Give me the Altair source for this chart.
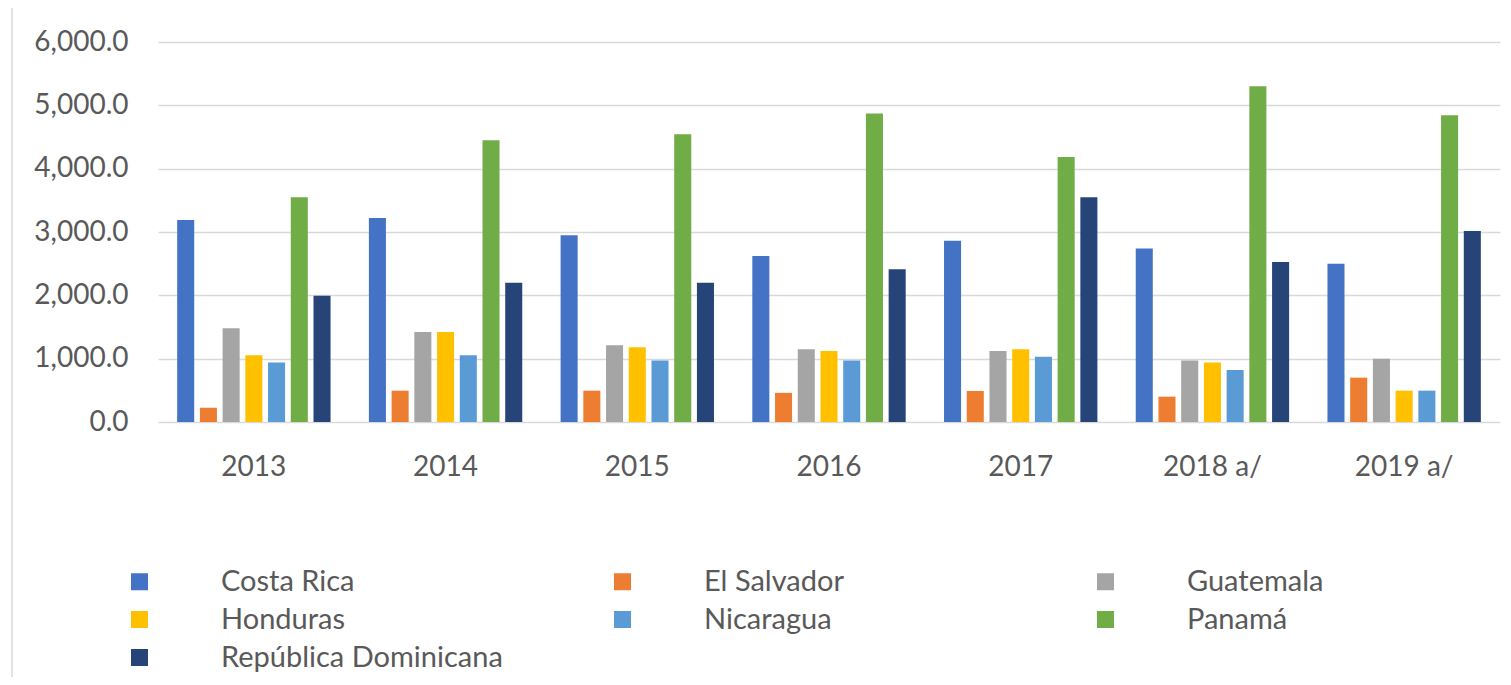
import altair as alt
import pandas as pd

years = ["2013", "2014", "2015", "2016", "2017", "2018 a/", "2019 a/"]
countries = ["Costa Rica", "El Salvador", "Guatemala", "Honduras",
             "Nicaragua", "Panamá", "República Dominicana"]
colors = ["#4472C4", "#ED7D31", "#A5A5A5", "#FFC000", "#5B9BD5", "#70AD47", "#264478"]

costa_rica = [3190, 3220, 2950, 2620, 2860, 2740, 2500]
el_salvador = [225, 495, 495, 460, 490, 400, 700]
guatemala = [1480, 1420, 1210, 1150, 1120, 970, 1000]
honduras = [1055, 1420, 1180, 1120, 1150, 940, 495]
nicaragua = [940, 1055, 970, 970, 1030, 820, 495]
panama = [3550, 4450, 4545, 4870, 4185, 5300, 4845]
rep_dom = [1995, 2200, 2200, 2410, 3550, 2525, 3015]

series = [costa_rica, el_salvador, guatemala, honduras, nicaragua, panama, rep_dom]
rows = []
for c, vals in zip(countries, series):
    for y, v in zip(years, vals):
        rows.append({"year": y, "country": c, "value": v})
df = pd.DataFrame(rows)

FONT = "Lato"
GREY = "#595959"

bars = alt.Chart(df).mark_bar().encode(
    x=alt.X("year:N", sort=years,
            scale=alt.Scale(paddingInner=0.2, paddingOuter=0.1),
            axis=alt.Axis(title=None, labelAngle=0, labelFontSize=28, labelFont=FONT,
                          labelColor=GREY, labelPadding=31, domain=False, ticks=False)),
    xOffset=alt.XOffset("country:N", sort=countries,
                        scale=alt.Scale(paddingInner=0.25, paddingOuter=0)),
    y=alt.Y("value:Q", scale=alt.Scale(domain=[0, 6000]),
            axis=alt.Axis(title=None, values=[0, 1000, 2000, 3000, 4000, 5000, 6000],
                          format=",.1f", labelFontSize=28, labelFont=FONT, labelColor=GREY,
                          labelPadding=30, domain=False, ticks=False,
                          gridColor="#d9d9d9", gridWidth=1.5)),
    color=alt.Color("country:N", sort=countries,
                    scale=alt.Scale(domain=countries, range=colors),
                    legend=alt.Legend(title=None, orient="none", legendX=-33, legendY=525,
                                      direction="horizontal",
                                      columns=3, symbolType="square", symbolSize=289,
                                      symbolStrokeWidth=0, labelFontSize=29, labelFont=FONT,
                                      labelColor=GREY, labelOffset=67, labelLimit=500,
                                      columnPadding=105, rowPadding=8, gridAlign="all",
                                      padding=0)),
)

border = alt.Chart(pd.DataFrame({"a": [0]})).mark_rect(
    fillOpacity=0, stroke="#d9d9d9", strokeWidth=1.5
).encode(
    x=alt.value(-146), x2=alt.value(1365), y=alt.value(-35), y2=alt.value(700)
)

chart = alt.layer(border, bars).properties(
    width=1342, height=380,
    autosize=alt.AutoSizeParams(type="none"),
    padding={"left": 150, "top": 34, "right": 3, "bottom": 255},
).configure_view(strokeOpacity=0)

chart.save("out.html", embed_options={"renderer": "svg", "actions": False})
